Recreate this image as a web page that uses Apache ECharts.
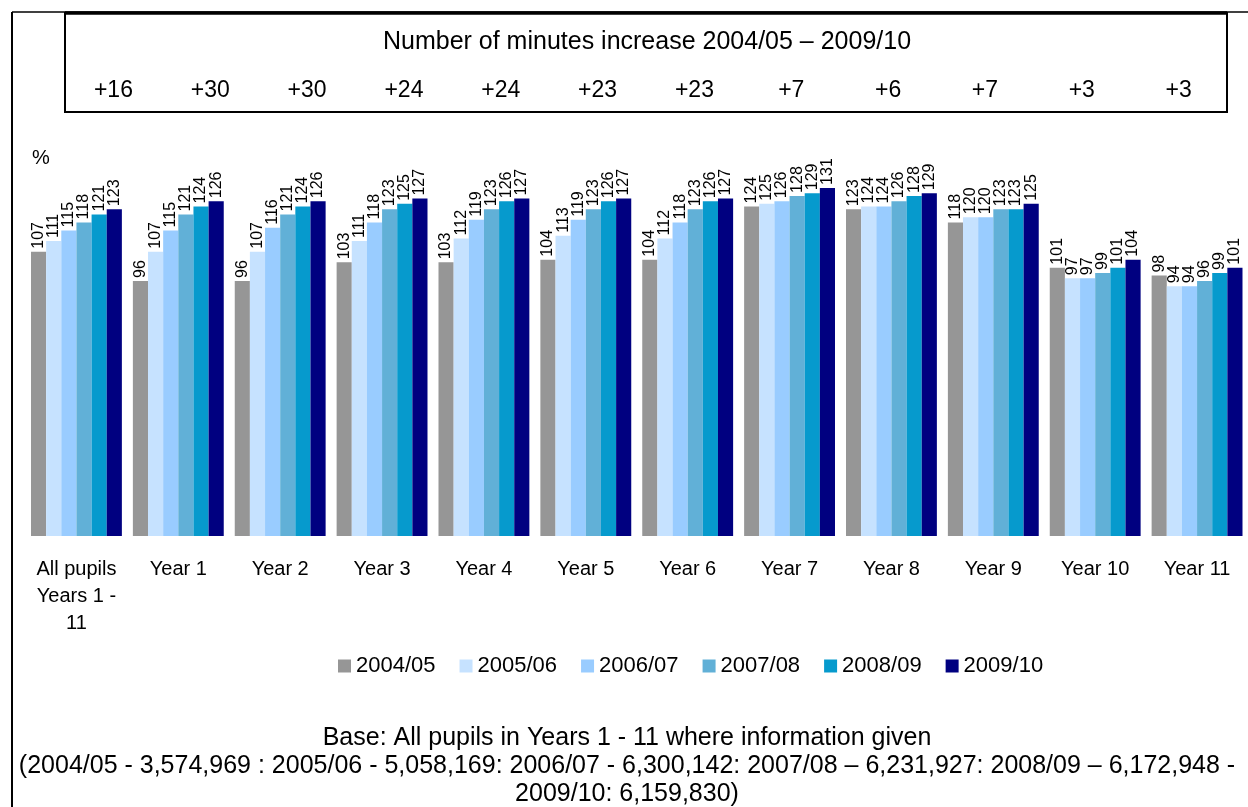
<!DOCTYPE html>
<html>
<head>
<meta charset="utf-8">
<script src="https://cdn.jsdelivr.net/npm/echarts@6/dist/echarts.min.js"></script>
<style>
html,body{margin:0;padding:0;background:#fff;}
#chart{width:1248px;height:807px;}
</style>
</head>
<body>
<div id="chart"></div>
<script>
// ---- Data ----
const categories = ['All pupils\nYears 1 -\n11','Year 1','Year 2','Year 3','Year 4','Year 5','Year 6','Year 7','Year 8','Year 9','Year 10','Year 11'];
const increases = ['+16','+30','+30','+24','+24','+23','+23','+7','+6','+7','+3','+3'];
const seriesNames = ['2004/05','2005/06','2006/07','2007/08','2008/09','2009/10'];
const s2004 = [107, 96, 96,103,103,104,104,124,123,118,101, 98];
const s2005 = [111,107,107,111,112,113,112,125,124,120, 97, 94];
const s2006 = [115,115,116,118,119,119,118,126,124,120, 97, 94];
const s2007 = [118,121,121,123,123,123,123,128,126,123, 99, 96];
const s2008 = [121,124,124,125,126,126,126,129,128,123,101, 99];
const s2009 = [123,126,126,127,127,127,127,131,129,125,104,101];
const seriesData = [s2004,s2005,s2006,s2007,s2008,s2009];
const colors = ['#969696','#C6E2FF','#99CCFF','#61B0D7','#069ACD','#000080'];

const FONT = '"Liberation Sans", Arial, sans-serif';

const chart = echarts.init(document.getElementById('chart'), null, {renderer:'canvas'});
const option = {
  animation: false,
  backgroundColor: '#fff',
  textStyle: { fontFamily: FONT, color: '#000' },
  title: [
    { text: 'Number of minutes increase 2004/05 \u2013 2009/10', left: 647, top: 30, padding: 0, textAlign: 'center',
      textStyle: { fontFamily: FONT, fontSize: 25, fontWeight: 'normal', color: '#000' } },
    { text: '%', left: 32, top: 148, padding: 0, textStyle: { fontFamily: FONT, fontSize: 20, fontWeight: 'normal', color: '#000' } },
    { text: 'Base: All pupils in Years 1 - 11 where information given\n(2004/05 - 3,574,969 : 2005/06 - 5,058,169: 2006/07 - 6,300,142: 2007/08 \u2013 6,231,927: 2008/09 \u2013 6,172,948 -\n2009/10: 6,159,830)',
      left: 627, top: 724, padding: 0, textAlign: 'center',
      textStyle: { fontFamily: FONT, fontSize: 25, fontWeight: 'normal', color: '#000', lineHeight: 28, align: 'center' } }
  ],
  legend: {
    data: seriesNames,
    left: 333, top: 650,
    itemWidth: 13, itemHeight: 13, itemGap: 24,
    icon: 'rect',
    textStyle: { fontFamily: FONT, fontSize: 22, color: '#000' }
  },
  grid: [
    { left: 25.5, top: 164, width: 1225, height: 372, containLabel: false },
    { left: 65, top: 13, width: 1162, height: 99, show: true, borderColor: '#000', borderWidth: 2, backgroundColor: 'transparent' }
  ],
  xAxis: [
    { type: 'category', gridIndex: 0, data: categories,
      axisLine: { show: false }, axisTick: { show: false },
      axisLabel: { fontFamily: FONT, fontSize: 20, color: '#000', margin: 20, lineHeight: 27, interval: 0 } },
    { type: 'category', gridIndex: 1, data: increases, position: 'bottom',
      axisLine: { show: false }, axisTick: { show: false },
      axisLabel: { inside: true, fontFamily: FONT, fontSize: 23, color: '#000', margin: 10, interval: 0 } }
  ],
  yAxis: [
    { type: 'value', gridIndex: 0, min: 0, max: 140, show: false, splitLine: { show: false } },
    { type: 'value', gridIndex: 1, min: 0, max: 1, show: false, splitLine: { show: false } }
  ],
  graphic: [
    { type: 'line', shape: { x1: 12, y1: 12, x2: 1248, y2: 12 }, style: { stroke: '#000', lineWidth: 1.5 } },
    { type: 'line', shape: { x1: 12, y1: 12, x2: 12, y2: 807 }, style: { stroke: '#000', lineWidth: 2 } },
    { type: 'line', shape: { x1: 65, y1: 13, x2: 1227, y2: 13 }, style: { stroke: '#000', lineWidth: 3.5 } }
  ],
  series: seriesData.map((d, i) => ({
    name: seriesNames[i],
    type: 'bar',
    xAxisIndex: 0, yAxisIndex: 0,
    data: d,
    barGap: '0%',
    barCategoryGap: '10.8%',
    itemStyle: { color: colors[i] },
    label: {
      show: true, position: 'top', rotate: 90, align: 'left', verticalAlign: 'middle',
      distance: 3, fontFamily: FONT, fontSize: 16, color: '#000'
    }
  }))
};
chart.setOption(option);
</script>
</body>
</html>
